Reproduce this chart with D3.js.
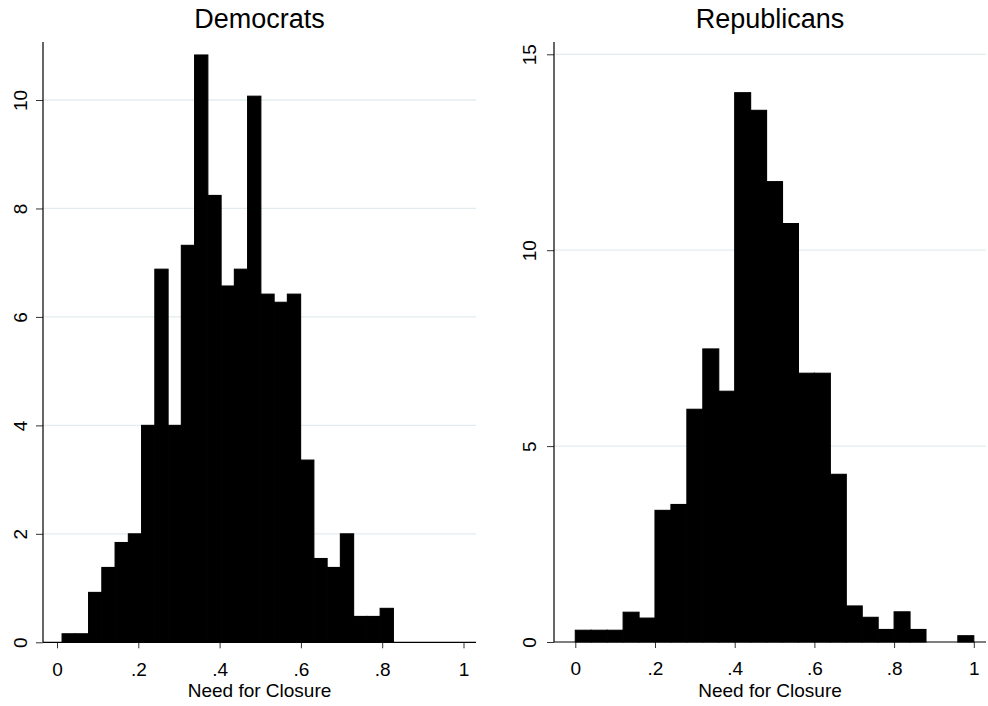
<!DOCTYPE html>
<html>
<head>
<meta charset="utf-8">
<script src="https://cdn.jsdelivr.net/npm/d3@7"></script>
<style>
  html, body { margin: 0; padding: 0; background: #fff; }
  svg { display: block; font-family: "Liberation Sans", Arial, Helvetica, sans-serif; }
</style>
</head>
<body>
<svg id="chart" width="988" height="706"></svg>
<script>
// ---- data ----
const panelTitles = ["Democrats", "Republicans"];
const xAxisTitle = "Need for Closure";
const xTickValues = [0, 0.2, 0.4, 0.6, 0.8, 1];
const xTickLabels = ["0", ".2", ".4", ".6", ".8", "1"];

const demEdges = [0.0125, 0.0451, 0.0777, 0.1103, 0.1429, 0.1755, 0.2081, 0.2407, 0.2733,
  0.3059, 0.3385, 0.3711, 0.4037, 0.4363, 0.4689, 0.5015, 0.5341, 0.5667, 0.5993, 0.6319,
  0.6645, 0.6971, 0.7297, 0.7623, 0.7949, 0.8275];
const demPercent = [0.157, 0.157, 0.92, 1.38, 1.84, 2.0, 4.0, 6.88, 4.0, 7.32, 10.83, 8.24,
  6.57, 6.88, 10.07, 6.42, 6.27, 6.42, 3.36, 1.545, 1.38, 2.0, 0.477, 0.477, 0.626];
const demYTicks = [0, 2, 4, 6, 8, 10];

const repEdges = [0, 0.04, 0.08, 0.12, 0.16, 0.2, 0.24, 0.28, 0.32, 0.36, 0.4, 0.44, 0.48,
  0.52, 0.56, 0.6, 0.64, 0.68, 0.72, 0.76, 0.8, 0.84, 0.88, 0.92, 0.96, 1.0];
const repPercent = [0.3, 0.3, 0.3, 0.76, 0.61, 3.36, 3.51, 5.94, 7.48, 6.40, 14.02, 13.57,
  11.75, 10.68, 6.86, 6.86, 4.28, 0.92, 0.63, 0.32, 0.77, 0.32, 0, 0, 0.16];
const repYTicks = [0, 5, 10, 15];

// ---- layout ----
const svg = d3.select("#chart");
const panels = [
  { title: panelTitles[0], edges: demEdges, values: demPercent, yTicks: demYTicks,
    axisX: 43, right: 476, x0: 57, x1: 463.5, yBottom: 642.3, yTopVal: 10, yTopPx: 100, axisTop: 42, labelOff: 16.5 },
  { title: panelTitles[1], edges: repEdges, values: repPercent, yTicks: repYTicks,
    axisX: 554, right: 986, x0: 575.3, x1: 973.8, yBottom: 642, yTopVal: 15, yTopPx: 54.3, axisTop: 42, labelOff: 18 }
];

panels.forEach(p => {
  const x = d3.scaleLinear().domain([0, 1]).range([p.x0, p.x1]);
  const y = d3.scaleLinear().domain([0, p.yTopVal]).range([p.yBottom, p.yTopPx]);
  const g = svg.append("g");
  const cx = (p.axisX + p.right) / 2;

  // gridlines
  g.selectAll("line.grid").data(p.yTicks.filter(t => t > 0)).enter().append("line")
    .attr("x1", p.axisX).attr("x2", p.right)
    .attr("y1", d => y(d)).attr("y2", d => y(d))
    .attr("stroke", "#e2ecef").attr("stroke-width", 1.3);

  // bars
  const bins = p.values.map((v, i) => ({ x0: p.edges[i], x1: p.edges[i + 1], v }));
  g.selectAll("rect.bar").data(bins.filter(b => b.v > 0)).enter().append("rect")
    .attr("x", d => x(d.x0))
    .attr("width", d => x(d.x1) - x(d.x0))
    .attr("y", d => y(d.v))
    .attr("height", d => y(0) - y(d.v))
    .attr("fill", "#000")
    .attr("stroke", "#000").attr("stroke-width", 1.1);

  // x axis
  const xAxis = d3.axisBottom(x).tickValues(xTickValues)
    .tickFormat((d, i) => xTickLabels[i]).tickSize(6).tickPadding(14);
  const xa = g.append("g").attr("transform", `translate(0,${p.yBottom})`).call(xAxis);
  xa.select(".domain").remove();
  xa.selectAll(".tick line").attr("stroke", "#333");
  xa.selectAll(".tick text").attr("font-size", 19).attr("fill", "#000")
    .attr("font-family", "Liberation Sans, Arial, sans-serif");
  g.append("line").attr("x1", p.axisX).attr("x2", p.right)
    .attr("y1", p.yBottom).attr("y2", p.yBottom).attr("stroke", "#000").attr("stroke-width", 1.2);

  // y axis
  const yAxis = d3.axisLeft(y).tickValues(p.yTicks).tickSize(7).tickFormat(d3.format("d"));
  const ya = g.append("g").attr("transform", `translate(${p.axisX},0)`).call(yAxis);
  ya.select(".domain").remove();
  ya.selectAll(".tick line").attr("stroke", "#333");
  ya.selectAll(".tick text")
    .attr("x", null).attr("dy", null)
    .attr("transform", `translate(${-p.labelOff},0) rotate(-90)`)
    .attr("text-anchor", "middle")
    .attr("font-size", 19).attr("fill", "#000")
    .attr("font-family", "Liberation Sans, Arial, sans-serif");
  g.append("line").attr("x1", p.axisX).attr("x2", p.axisX)
    .attr("y1", p.axisTop).attr("y2", p.yBottom).attr("stroke", "#000").attr("stroke-width", 1.2);

  // titles
  g.append("text").attr("x", cx).attr("y", 27.5).attr("text-anchor", "middle")
    .attr("font-size", 27).attr("fill", "#000").text(p.title);
  g.append("text").attr("x", cx).attr("y", 697).attr("text-anchor", "middle")
    .attr("font-size", 19).attr("fill", "#000").text(xAxisTitle);
});
</script>
</body>
</html>
